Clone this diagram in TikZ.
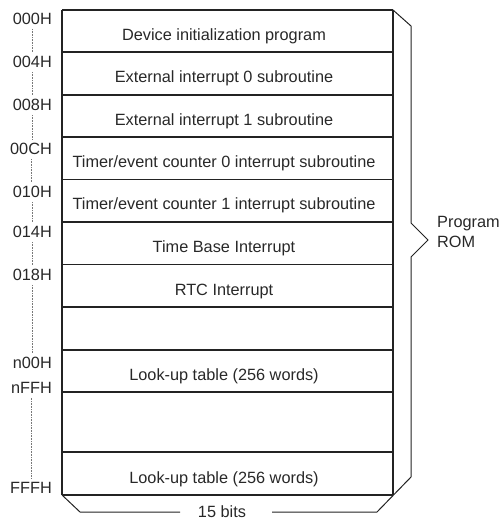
\documentclass[tikz,border=0pt]{standalone}
\usepackage{fontspec}
\setmainfont{Liberation Sans}
\usepackage{tikz}
\usetikzlibrary{positioning, calc}
\definecolor{inkcolor}{RGB}{35, 35, 35}
\definecolor{textcolor}{RGB}{40, 40, 40}
\definecolor{dotcolor}{RGB}{120, 120, 120}

\begin{document}
\begin{tikzpicture}[x=1pt, y=-1pt,
    font=\fontsize{16.3}{19}\selectfont, text=textcolor,
    addr/.style={anchor=east, inner sep=0pt},
    cell/.style={anchor=base, inner sep=0pt},
    rowline/.style={draw=inkcolor, line width=1.6pt},
    frameline/.style={draw=inkcolor, line width=1.1pt},
    braceline/.style={draw=inkcolor, line width=1pt},
    addrdots/.style={draw=dotcolor, line width=0.8pt, dash pattern=on 0.8pt off 0.8pt, shorten <=4pt, shorten >=4pt}]
    \useasboundingbox (0,0) rectangle (498,518);

    % Rows of the memory map
    \foreach \y in {10, 52, 95, 137, 179.5, 222, 264.5, 307, 350, 392, 452, 495}
        \draw[rowline] (62,\y) -- (393,\y);
    \draw[frameline] (62,10) -- (62,495);
    \draw[frameline] (393,10) -- (393,495);

    % Row contents
    \node[cell] (rowinit) at (224, 40.5) {Device initialization program};
    \node[cell] (rowext0) at (224, 83) {External interrupt 0 subroutine};
    \node[cell] (rowext1) at (224, 125.5) {External interrupt 1 subroutine};
    \node[cell] (rowtmr0) at (224, 167.5) {Timer/event counter 0 interrupt subroutine};
    \node[cell] (rowtmr1) at (224, 210) {Timer/event counter 1 interrupt subroutine};
    \node[cell] (rowtbase) at (224, 252.5) {Time Base Interrupt};
    \node[cell] (rowrtc) at (224, 295) {RTC Interrupt};
    \node[cell] (rowlut1) at (224, 380.5) {Look-up table (256 words)};
    \node[cell] (rowlut2) at (224, 483) {Look-up table (256 words)};

    % Addresses
    \node[addr] (a000) at (52, 19) {000H};
    \node[addr] (a004) at (52, 62) {004H};
    \node[addr] (a008) at (52, 105) {008H};
    \node[addr] (a00C) at (52, 149) {00CH};
    \node[addr] (a010) at (52, 192) {010H};
    \node[addr] (a014) at (52, 232) {014H};
    \node[addr] (a018) at (52, 275) {018H};
    \node[addr] (an00) at (52, 363) {n00H};
    \node[addr] (anFF) at (52, 388) {nFFH};
    \node[addr] (aFFF) at (52, 488) {FFFH};
    \foreach \a/\b in {a000/a004, a004/a008, a008/a00C, a00C/a010, a010/a014, a014/a018, a018/an00, anFF/aFFF}
        \draw[addrdots] (\a.south) -- (\a.south |- \b.north);

    % Program ROM brace and width
    \coordinate (romtip) at (428, 240);
    \node[anchor=base west, inner sep=0pt, align=left] (romlabel) at (437, 247) {Program\\ROM};
    \node[cell] (bitslabel) at (222, 517) {15 bits};
    \draw[braceline] (393,10) -- (411,26) -- (411,223) -- (romtip) -- (411,257) -- (411,477) -- (377,512) -- (272,512);
    \draw[braceline] (180,512) -- (80,512) -- (62,495);

\end{tikzpicture}
\end{document}
